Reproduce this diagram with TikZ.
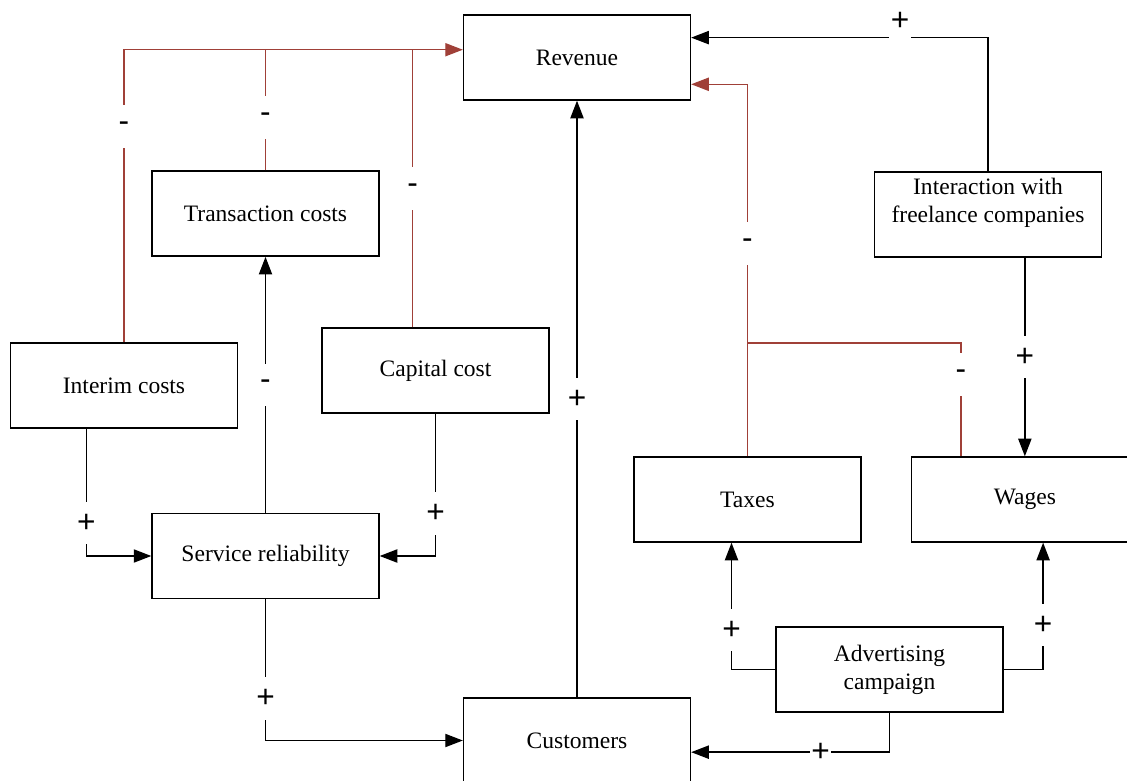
\documentclass[tikz,border=0pt]{standalone}
\usepackage{fontspec}
\setmainfont{Liberation Serif}
\newfontfamily\signfont{Liberation Sans}
\usepackage{tikz}
\usetikzlibrary{arrows.meta, calc, positioning}
\definecolor{negred}{RGB}{160,64,56}
\tikzset{%
  every path/.style={line width=0.8pt},
    factor/.style={%
        rectangle,
        draw=black, fill=white,
        minimum width=4.54cm,
        minimum height=1.7cm,
        inner sep=0pt,
        align=center,
        font=\fontsize{13.4pt}{16pt}\selectfont,
    },
    link/.style={%
        ->,
        >={Triangle[length=10pt, width=7.5pt]},
    },
    neglink/.style={%
        link,
        draw=negred,
    },
    negline/.style={%
        draw=negred,
    },
    sign/.style={%
        fill=white,
        inner xsep=1pt, inner ysep=0pt,
        minimum height=0.85cm,
        text=black,
        font=\signfont\fontsize{18pt}{18pt}\selectfont,
    },
}

\begin{document}
\begin{tikzpicture}[x=0.02cm, y=-0.02cm]
	\useasboundingbox (0,0) rectangle (1127,781);

	\node [factor] at (577,57.5) (rev) {Revenue};
	\node [factor] at (265.5,556) (serv) {Service reliability};
	\node [factor, above=5.12cm of serv] (trans) {Transaction costs};
	\node [factor] at (124,385.5) (interim) {Interim costs};
	\node [factor] at (435.5,370.5) (capital) {Capital cost};
	\node [factor] at (577,740.5) (cust) {Customers};
	\node [factor] at (988,214.5) (freelance) {Interaction with\\freelance companies\\[-4.5pt]\strut};
	\node [factor] at (747.5,499.5) (taxes) {Taxes};
	\node [factor, right=0.98cm of taxes] (wages) {Wages};
	\node [factor] at (889.5,669.5) (adv) {Advertising\\campaign};

	% ports on the box sides
	\coordinate (revL) at ($(rev.north west)!0.41!(rev.south west)$);
	\coordinate (revR1) at ($(rev.north east)!0.27!(rev.south east)$);
	\coordinate (revR2) at ($(rev.north east)!0.81!(rev.south east)$);
	\coordinate (capT) at ($(capital.north west)!0.4!(capital.north east)$);
	\coordinate (intB) at ($(interim.south west)!0.335!(interim.south east)$);
	\coordinate (custR) at ($(cust.north east)!0.635!(cust.south east)$);
	\coordinate (taxB) at ($(taxes.south west)!0.43!(taxes.south east)$);
	\coordinate (wagB) at ($(wages.south west)!0.58!(wages.south east)$);
	\coordinate (wagT) at ($(wages.north west)!0.22!(wages.north east)$);
	\coordinate (tw) at (taxes.north |- 0,343);

	% costs pull revenue down
	\draw[neglink] (interim.north) |- node[sign, pos=0.369] (m1) {-} (revL);
	\draw[negline] (trans.north) -- node[sign, pos=0.44] (m2) {-} (trans.north |- revL);
	\draw[negline] (capT) -- node[sign] (m3) {-} (capT |- revL);
	\draw[neglink] (taxes.north) |- node[sign, pos=0.286] (m5) {-} (revR2);
	\draw[negline] (wagT) |- node[sign, pos=0.36] (m6) {-} (tw);

	\draw[link] (serv.north) -- node[sign] (m4) {-} (trans.south);
	\draw[link] (intB) |- node[sign, pos=0.371] (p1) {+} (serv.west);
	\draw[link] (capital.south) |- node[sign, pos=0.35] (p2) {+} (serv.east);
	\draw[link] (serv.south) |- node[sign, pos=0.352] (p3) {+} (cust.west);
	\draw[link] (cust.north) -- node[sign] (p4) {+} (rev.south);

	\draw[link] (adv.south) |- node[sign, pos=0.674] (p5) {+} (custR);
	\draw[link] (adv.west) -| node[sign, pos=0.655] (p6) {+} (taxB);
	\draw[link] (adv.east) -| node[sign, pos=0.675] (p7) {+} (wagB);
	\draw[link] (wages.north |- freelance.south) -- node[sign] (p8) {+} (wages.north);
	\draw[link] (freelance.north) |- node[sign, pos=0.648, anchor=south, yshift=-3.5pt] (p9) {+} (revR1);
\end{tikzpicture}
\end{document}
